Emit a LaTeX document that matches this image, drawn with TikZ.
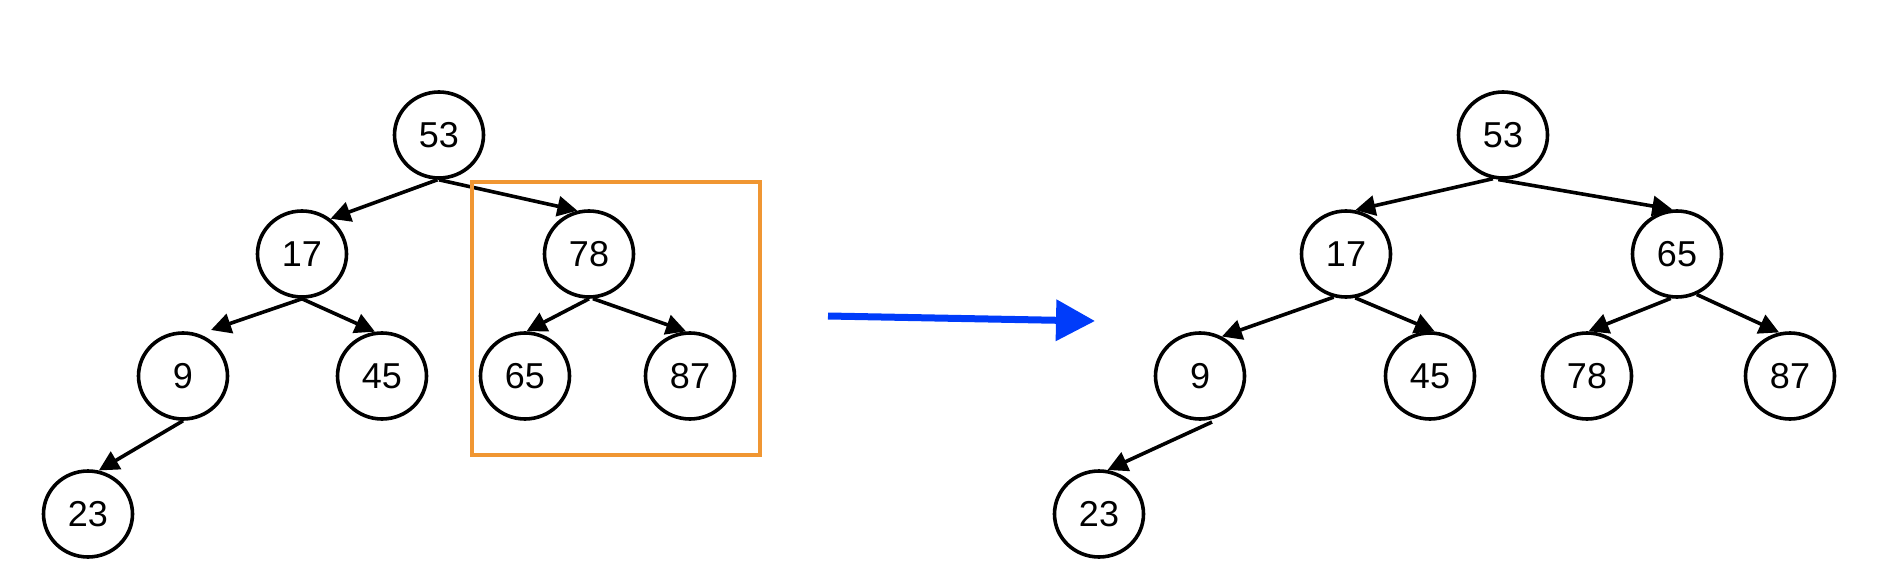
\documentclass[tikz,border=0pt]{standalone}
\usepackage{fontspec}
\setmainfont{Liberation Sans}
\usetikzlibrary{shapes.geometric,arrows.meta,calc}
\definecolor{boxorange}{RGB}{240,150,50}
\definecolor{arrowblue}{RGB}{0,60,250}
\begin{document}
\begin{tikzpicture}[x=1pt,y=-1pt,
  tnode/.style={ellipse,draw=black,line width=3.6pt,minimum width=89pt,minimum height=86pt,inner sep=0pt,font=\fontsize{36}{40}\selectfont},
  edge/.style={line width=3.6pt,-{Triangle[length=20pt,width=20pt]}},
]
\useasboundingbox (0,0) rectangle (1888,586);
% left tree
\node[tnode] (a53) at (439,135) {53};
\node[tnode] (a17) at (302,254) {17};
\node[tnode] (a78) at (589,254) {78};
\node[tnode] (a9)  at (183,376) {9};
\node[tnode] (a45) at (382,376) {45};
\node[tnode] (a65) at (525,376) {65};
\node[tnode] (a87) at (690,376) {87};
\node[tnode] (a23) at (88,514) {23};
\draw[edge] (a53.268) -- (a17.51);
\draw[edge] (a53.270) -- (a78.105);
\draw[edge] (a17.270) -- ($(a9.center)+(28,-46)$);
\draw[edge] (a17.270) -- (a45.99);
\draw[edge] (a78.270) -- (a65.88);
\draw[edge] (a78.275) -- (a87.95);
\draw[edge] (a9.270) -- (a23.76);
\draw[boxorange,line width=3.6pt] (472,182) rectangle (760,455);
% blue arrow
\coordinate (bs) at (828,316);
\coordinate (be) at (1095,321);
\draw[arrowblue,line width=7pt,-{Triangle[length=39pt,width=40pt]}] (bs) -- (be);
% right tree
\node[tnode] (b53) at (1503,135) {53};
\node[tnode] (b17) at (1346,254) {17};
\node[tnode] (b65) at (1677,254) {65};
\node[tnode] (b9)  at (1200,376) {9};
\node[tnode] (b45) at (1430,376) {45};
\node[tnode] (b78) at (1587,376) {78};
\node[tnode] (b87) at (1790,376) {87};
\node[tnode] (b23) at (1099,514) {23};
\draw[edge] (b53.257) -- (b17.78);
\draw[edge] (b53.264) -- (b65.96);
\draw[edge] (b17.254) -- (b9.61);
\draw[edge] (b17.282) -- (b45.84);
\draw[edge] (b65.262) -- (b78.88);
\draw[edge] (b65.296) -- (b87.104);
\draw[edge] ($(b9.center)+(12,46)$) -- (b23.79);
\end{tikzpicture}
\end{document}
